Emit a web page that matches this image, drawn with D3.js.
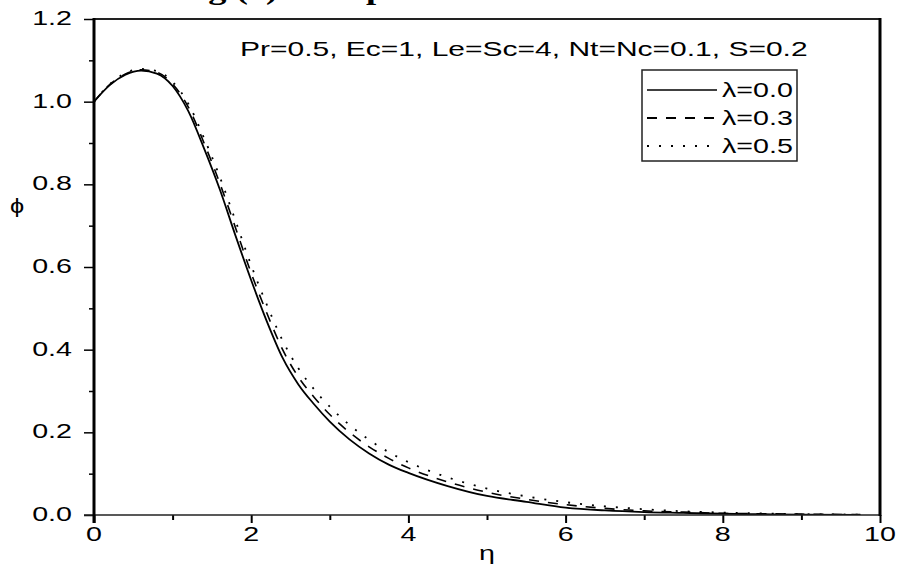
<!DOCTYPE html>
<html>
<head>
<meta charset="utf-8">
<script src="https://cdn.jsdelivr.net/npm/d3@7/dist/d3.min.js"></script>
<style>
body { margin: 0; background: #fff; }
</style>
</head>
<body>
<script>
// data
var eta = [0, 0.2, 0.4, 0.6, 0.8, 1.0, 1.2, 1.4, 1.6, 1.8, 2.0, 2.2, 2.4, 2.6, 2.8, 3.0,
    3.25, 3.5, 3.75, 4.0, 4.5, 5.0, 5.5, 6.0, 6.5, 7.0, 7.5, 8.0, 8.5, 9.0, 9.75];
var phiLambda0 = [1.000, 1.040, 1.065, 1.075, 1.068, 1.038, 0.977, 0.887, 0.788, 0.676, 0.568, 0.468, 0.380, 0.316, 0.268, 0.226,
    0.183, 0.149, 0.122, 0.102, 0.070, 0.046, 0.032, 0.018, 0.011, 0.007, 0.005, 0.003, 0.002, 0.001, 0.000];
var phiLambda3 = [1.000, 1.041, 1.067, 1.077, 1.071, 1.043, 0.987, 0.900, 0.803, 0.695, 0.585, 0.488, 0.400, 0.334, 0.285, 0.243,
    0.200, 0.165, 0.137, 0.114, 0.080, 0.055, 0.038, 0.025, 0.016, 0.010, 0.007, 0.004, 0.003, 0.002, 0.001];
var phiLambda5 = [1.000, 1.042, 1.069, 1.079, 1.074, 1.048, 0.995, 0.912, 0.818, 0.712, 0.604, 0.508, 0.422, 0.355, 0.304, 0.262,
    0.218, 0.182, 0.152, 0.128, 0.091, 0.064, 0.045, 0.031, 0.021, 0.014, 0.009, 0.006, 0.004, 0.002, 0.001];
var seriesNames = ["\u03bb=0.0", "\u03bb=0.3", "\u03bb=0.5"];
var xTicks = [0, 2, 4, 6, 8, 10];
var yTicks = [0.0, 0.2, 0.4, 0.6, 0.8, 1.0, 1.2];
var noteText = "Pr=0.5, Ec=1, Le=Sc=4, Nt=Nc=0.1, S=0.2";
var captionText = "Fig.(4): Temperature";

var width = 899, height = 576;
var plotLeft = 94, plotRight = 880, plotTop = 19, plotBottom = 515;
var stretch = 1.47; // the original figure is stretched sideways
var fontFamily = "Arial, 'Liberation Sans', sans-serif";

var svg = d3.select("body").append("svg")
    .attr("width", width)
    .attr("height", height);

var x = d3.scaleLinear().domain([0, 10]).range([plotLeft, plotRight]);
var y = d3.scaleLinear().domain([0, 1.2]).range([plotBottom, plotTop]);

//キャプションの切れ端 (only the descenders show)
svg.append("text")
    .attr("transform", "translate(176,-1) scale(1.3,1)")
    .attr("font-family", "'Liberation Serif', 'Times New Roman', serif")
    .attr("font-weight", "bold")
    .attr("font-size", "28px")
    .text(captionText);

//curves
var styles = [
    { dash: null, width: 1.8 },
    { dash: "10,9", width: 1.6 },
    { dash: "2,10", width: 1.8 }
];
var seriesData = [phiLambda0, phiLambda3, phiLambda5];
var line = d3.line()
    .x(function (d) { return x(d[0]); })
    .y(function (d) { return y(d[1]); })
    .curve(d3.curveMonotoneX);

svg.append("clipPath").attr("id", "plot-clip")
    .append("rect")
    .attr("x", plotLeft).attr("y", plotTop)
    .attr("width", plotRight - plotLeft).attr("height", plotBottom - plotTop);

svg.append("g").attr("clip-path", "url(#plot-clip)")
    .selectAll("path")
    .data(seriesData)
    .enter()
    .append("path")
    .attr("d", function (vals) {
    return line(eta.map(function (e, i) { return [e, vals[i]]; }));
})
    .attr("fill", "none")
    .attr("stroke", "#000")
    .attr("stroke-width", function (d, i) { return styles[i].width; })
    .attr("stroke-dasharray", function (d, i) { return styles[i].dash; });

//axes: major and minor ticks
svg.append("g")
    .attr("transform", "translate(" + plotLeft + ",0)")
    .call(d3.axisLeft(y).tickValues(d3.range(0.1, 1.2, 0.2)).tickSize(5).tickFormat(""))
    .call(function (g) { g.select(".domain").remove(); })
    .selectAll("line").attr("stroke-width", 1.5);
svg.append("g")
    .attr("transform", "translate(" + plotLeft + ",0)")
    .call(d3.axisLeft(y).tickValues(yTicks).tickSize(10).tickFormat(""))
    .call(function (g) { g.select(".domain").remove(); })
    .selectAll("line").attr("stroke-width", 1.5);
svg.append("g")
    .attr("transform", "translate(0," + plotBottom + ")")
    .call(d3.axisBottom(x).tickValues(d3.range(1, 10, 2)).tickSize(5).tickFormat(""))
    .call(function (g) { g.select(".domain").remove(); })
    .selectAll("line").attr("stroke-width", 2);
svg.append("g")
    .attr("transform", "translate(0," + plotBottom + ")")
    .call(d3.axisBottom(x).tickValues(xTicks).tickSize(8).tickFormat(""))
    .call(function (g) { g.select(".domain").remove(); })
    .selectAll("line").attr("stroke-width", 2);

//frame
svg.append("line").attr("x1", plotLeft).attr("x2", plotRight).attr("y1", plotTop).attr("y2", plotTop)
    .attr("stroke", "#222").attr("stroke-width", 2);
svg.append("line").attr("x1", plotLeft - 10).attr("x2", plotRight).attr("y1", plotBottom).attr("y2", plotBottom)
    .attr("stroke", "#222").attr("stroke-width", 1.5);
svg.append("line").attr("x1", plotLeft).attr("x2", plotLeft).attr("y1", plotTop - 1).attr("y2", plotBottom + 8)
    .attr("stroke", "#000").attr("stroke-width", 3);
svg.append("line").attr("x1", plotRight).attr("x2", plotRight).attr("y1", plotTop - 1).attr("y2", plotBottom + 1)
    .attr("stroke", "#000").attr("stroke-width", 3);

//tick labels
svg.selectAll("text.ylab")
    .data(yTicks)
    .enter()
    .append("text")
    .attr("class", "ylab")
    .attr("transform", function (d) {
    return "translate(72," + (y(d) + 6) + ") scale(" + stretch + ",1)";
})
    .attr("text-anchor", "end")
    .attr("font-family", fontFamily)
    .attr("font-size", "19.5px")
    .text(function (d) { return d.toFixed(1); });
svg.selectAll("text.xlab")
    .data(xTicks)
    .enter()
    .append("text")
    .attr("class", "xlab")
    .attr("transform", function (d) {
    return "translate(" + x(d) + ",541) scale(" + stretch + ",1)";
})
    .attr("text-anchor", "middle")
    .attr("font-family", fontFamily)
    .attr("font-size", "19.5px")
    .text(function (d) { return d; });

//axis titles
svg.append("text")
    .attr("transform", "translate(" + ((plotLeft + plotRight) / 2) + ",560) scale(" + stretch + ",1)")
    .attr("text-anchor", "middle")
    .attr("font-family", fontFamily)
    .attr("font-size", "19.5px")
    .text("\u03b7");
svg.append("text")
    .attr("transform", "translate(17,213) scale(1.3,1)")
    .attr("text-anchor", "middle")
    .attr("font-family", fontFamily)
    .attr("font-size", "19.5px")
    .text("\u03d5");

//parameters
svg.append("text")
    .attr("transform", "translate(240,56) scale(1.5,1)")
    .attr("font-family", fontFamily)
    .attr("font-size", "20px")
    .text(noteText);

//legend
var legend = svg.append("g");
legend.append("rect")
    .attr("x", 642).attr("y", 70)
    .attr("width", 155).attr("height", 91)
    .attr("fill", "#fff")
    .attr("stroke", "#222")
    .attr("stroke-width", 1.5);
var rows = legend.selectAll("g.row")
    .data(seriesNames)
    .enter()
    .append("g")
    .attr("class", "row")
    .attr("transform", function (d, i) { return "translate(0," + (90 + i * 28) + ")"; });
rows.append("line")
    .attr("x1", 647).attr("x2", 717)
    .attr("y1", 0).attr("y2", 0)
    .attr("stroke", "#000")
    .attr("stroke-width", function (d, i) { return i == 0 ? 1.5 : 1.8; })
    .attr("stroke-dasharray", function (d, i) { return styles[i].dash; });
rows.append("text")
    .attr("transform", "translate(722,7) scale(" + stretch + ",1)")
    .attr("font-family", fontFamily)
    .attr("font-size", "19.5px")
    .text(function (d) { return d; });
</script>
</body>
</html>
